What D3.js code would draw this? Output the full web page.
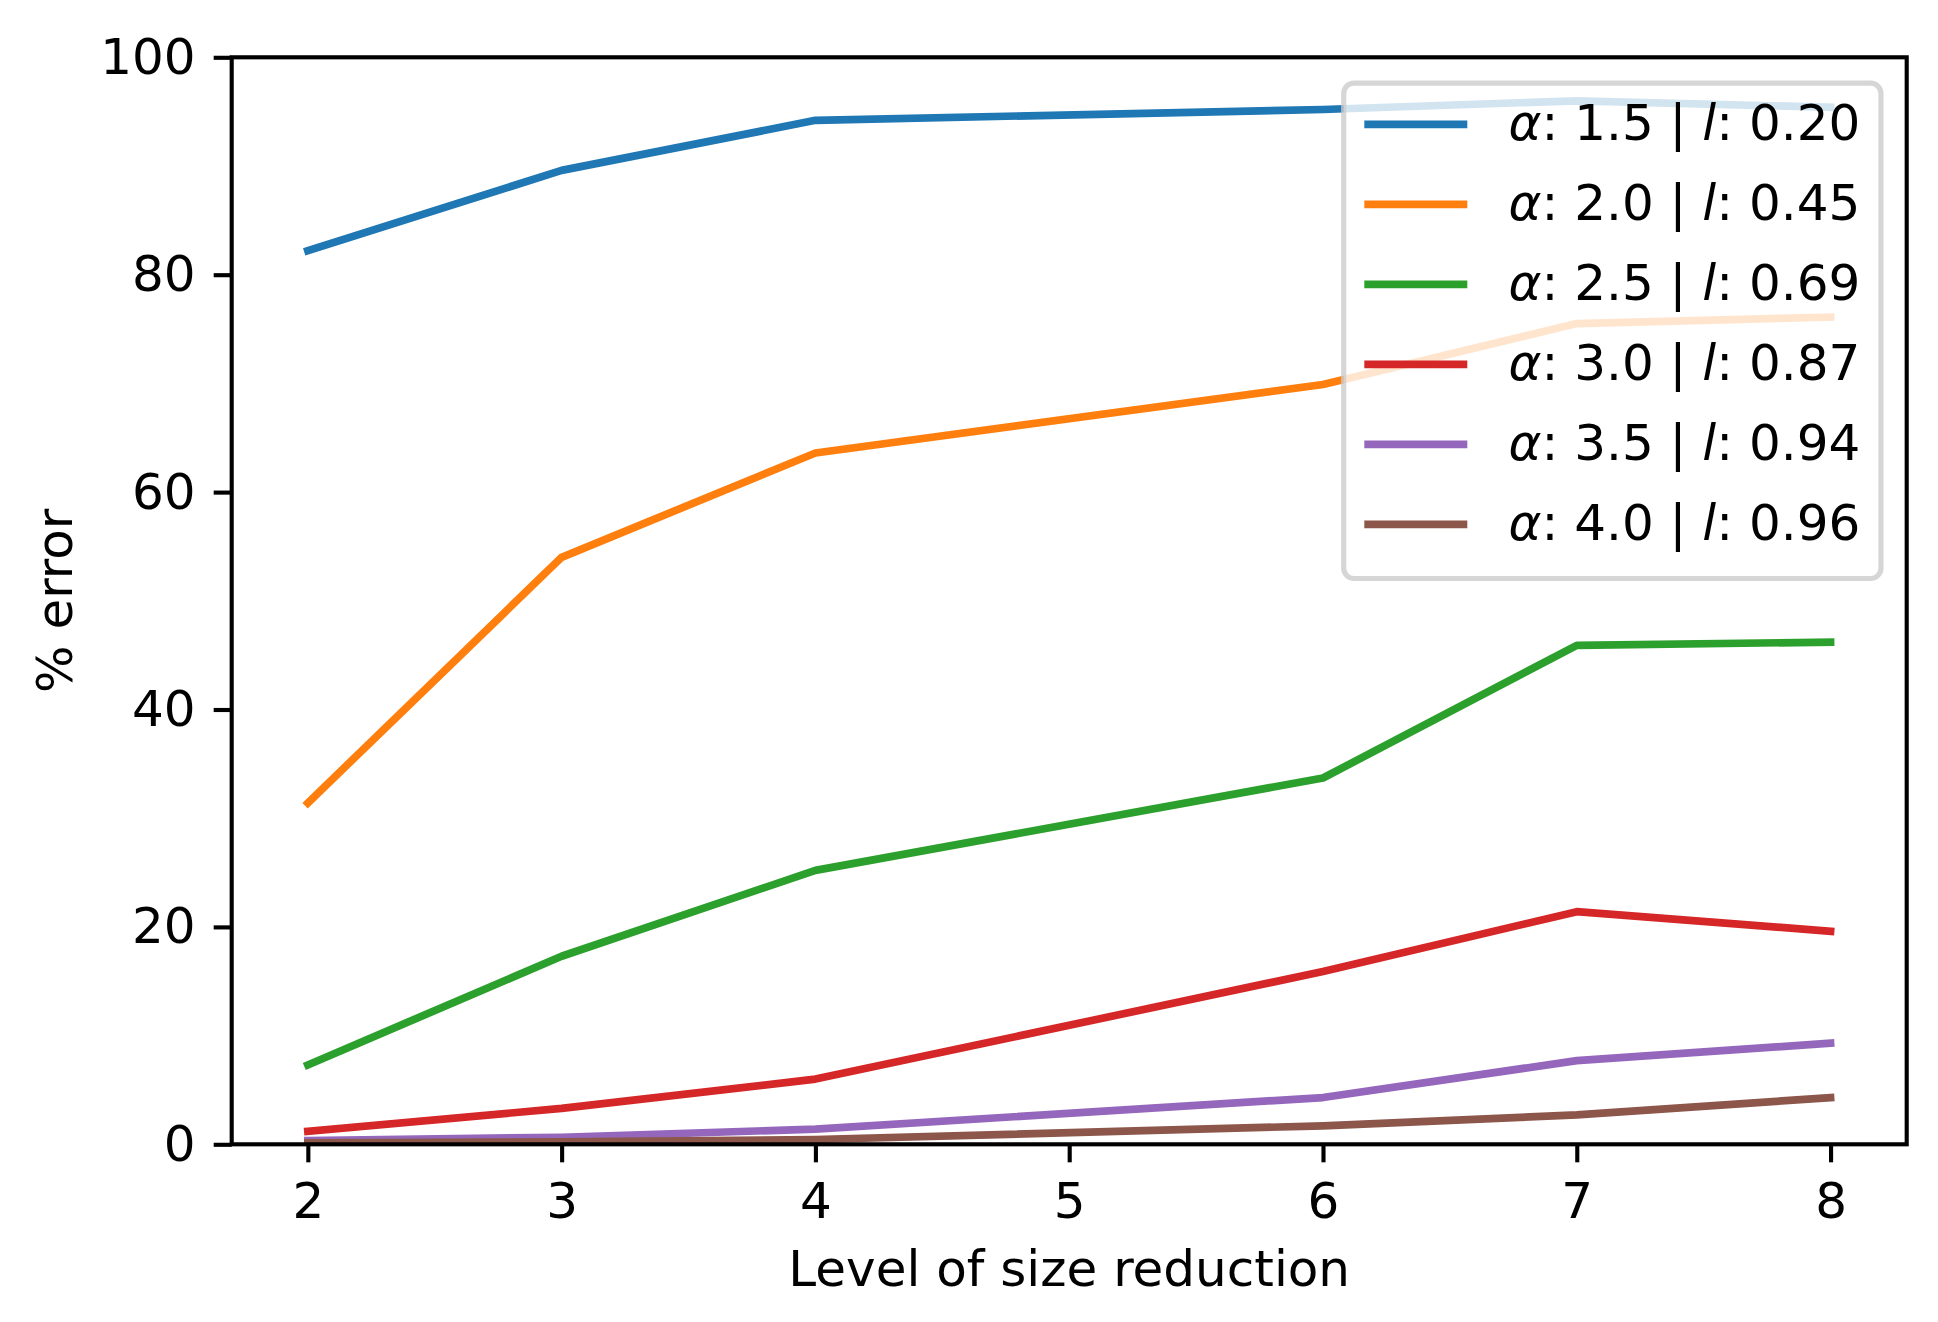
<!DOCTYPE html>
<html lang="en">
<head>
    <meta charset="UTF-8">
    <title>% error vs level of size reduction</title>
    <script src="https://d3js.org/d3.v7.min.js"></script>
    <style>
        body {
            margin: 0;
            background: #fff;
        }
        svg text {
            font-family: "DejaVu Sans", sans-serif;
            fill: #000;
        }
        .series {
            fill: none;
            stroke-width: 7.7px;
            stroke-linecap: square;
            stroke-linejoin: round;
        }
    </style>
</head>
<body>
<div id="chart"></div>
<script>
    // Data
    const sizes = [2, 3, 4, 6, 7, 8];
    const alphas = ["1.5", "2.0", "2.5", "3.0", "3.5", "4.0"];
    const ells = ["0.20", "0.45", "0.69", "0.87", "0.94", "0.96"];
    const err15 = [82.2, 89.6, 94.2, 95.2, 96.0, 95.4];
    const err20 = [31.4, 54.0, 63.6, 69.9, 75.5, 76.1];
    const err25 = [7.3, 17.3, 25.2, 33.7, 45.9, 46.2];
    const err30 = [1.2, 3.3, 6.0, 15.9, 21.4, 19.6];
    const err35 = [0.35, 0.65, 1.4, 4.3, 7.7, 9.3];
    const err40 = [0.13, 0.23, 0.44, 1.7, 2.7, 4.3];
    const xTicks = [2, 3, 4, 5, 6, 7, 8];
    const yTicks = [0, 20, 40, 60, 80, 100];
    const colors = ["#1f77b4", "#ff7f0e", "#2ca02c", "#d62728", "#9467bd", "#8c564b"];

    const seriesValues = [err15, err20, err25, err30, err35, err40];

    // Figure geometry (matplotlib-like, 1pt ~ 5.15px)
    const W = 1938, H = 1322;
    const pt = 5.15;
    const fs = 50;
    const margin = {left: 231.7, right: W - 1906.7, top: 57.3, bottom: H - 1144.3};
    const innerW = W - margin.left - margin.right,
          innerH = H - margin.top - margin.bottom;

    const svg = d3.select("#chart").append("svg")
        .attr("width", W)
        .attr("height", H);

    const g = svg.append("g")
        .attr("transform", `translate(${margin.left},${margin.top})`);

    // 5% padding on x like matplotlib autoscale
    const xPad = (d3.max(sizes) - d3.min(sizes)) * 0.05;
    const x = d3.scaleLinear()
        .domain([d3.min(sizes) - xPad, d3.max(sizes) + xPad])
        .range([0, innerW]);
    const y = d3.scaleLinear()
        .domain([0, 100])
        .range([innerH, 0]);

    g.append("clipPath").attr("id", "plot-clip")
        .append("rect")
        .attr("width", innerW)
        .attr("height", innerH);

    // Lines
    const line = d3.line()
        .x((d, i) => x(sizes[i]))
        .y(d => y(d));

    g.append("g")
        .attr("clip-path", "url(#plot-clip)")
        .selectAll("path")
        .data(seriesValues)
        .join("path")
        .attr("class", "series")
        .attr("stroke", (d, i) => colors[i])
        .attr("d", line);

    // Axes
    const tickLen = 3.5 * pt, tickPad = 3.5 * pt;

    const xAxis = g.append("g")
        .attr("transform", `translate(0,${innerH})`)
        .call(d3.axisBottom(x).tickValues(xTicks).tickFormat(d3.format("d"))
            .tickSize(tickLen).tickPadding(tickPad));

    const yAxis = g.append("g")
        .call(d3.axisLeft(y).tickValues(yTicks).tickFormat(d3.format("d"))
            .tickSize(tickLen).tickPadding(tickPad));

    [xAxis, yAxis].forEach(ax => {
        ax.select(".domain").remove();
        ax.selectAll(".tick line")
            .attr("stroke", "#000")
            .attr("stroke-width", 0.8 * pt);
        ax.selectAll(".tick text")
            .style("font-size", fs + "px")
            .style("font-family", '"DejaVu Sans", sans-serif');
    });
    xAxis.selectAll(".tick text").attr("dy", "0.76em");

    // Spines
    g.append("rect")
        .attr("width", innerW)
        .attr("height", innerH)
        .attr("fill", "none")
        .attr("stroke", "#000")
        .attr("stroke-width", 0.8 * pt)
        .attr("stroke-linejoin", "miter");

    // Axis labels
    svg.append("text")
        .attr("x", margin.left + innerW / 2)
        .attr("y", 1286)
        .attr("text-anchor", "middle")
        .style("font-size", fs + "px")
        .text("Level of size reduction");

    svg.append("text")
        .attr("transform", `translate(71.7,${margin.top + innerH / 2}) rotate(-90)`)
        .attr("text-anchor", "middle")
        .style("font-size", fs + "px")
        .text("% error");

    // Legend (upper right)
    const borderPad = 4 * pt,
          handleLen = 20 * pt,
          handleTextPad = 8 * pt,
          labelSpacing = 5 * pt,
          axesPad = 5 * pt,
          rowH = 54.25;

    const legend = g.append("g");
    const frame = legend.append("rect");
    const rows = legend.selectAll("g.row")
        .data(alphas)
        .join("g")
        .attr("class", "row");

    const labels = rows.append("text")
        .style("font-size", fs + "px");
    labels.append("tspan").style("font-style", "italic").text("α");
    labels.append("tspan").text((d, i) => `: ${alphas[i]} | `);
    labels.append("tspan").style("font-style", "italic").text("l");
    labels.append("tspan").text((d, i) => `: ${ells[i]}`);

    let textW = 0;
    labels.each(function () { textW = Math.max(textW, this.getComputedTextLength()); });

    const boxW = 2 * borderPad + handleLen + handleTextPad + textW;
    const boxH = 2 * borderPad + alphas.length * rowH + (alphas.length - 1) * labelSpacing;
    const boxX = innerW - axesPad - boxW;
    const boxY = axesPad;

    frame.attr("x", boxX)
        .attr("y", boxY)
        .attr("width", boxW)
        .attr("height", boxH)
        .attr("rx", 2 * pt)
        .attr("fill", "#fff")
        .attr("fill-opacity", 0.8)
        .attr("stroke", "#cccccc")
        .attr("stroke-opacity", 0.8)
        .attr("stroke-width", 1 * pt);

    rows.attr("transform", (d, i) =>
        `translate(${boxX + borderPad},${boxY + 41.3 + i * (rowH + labelSpacing)})`);

    rows.append("line")
        .attr("x1", 0)
        .attr("x2", handleLen)
        .attr("stroke", (d, i) => colors[i])
        .attr("stroke-width", 7.7);

    labels.attr("x", handleLen + handleTextPad)
        .attr("y", 16);
</script>
</body>
</html>
